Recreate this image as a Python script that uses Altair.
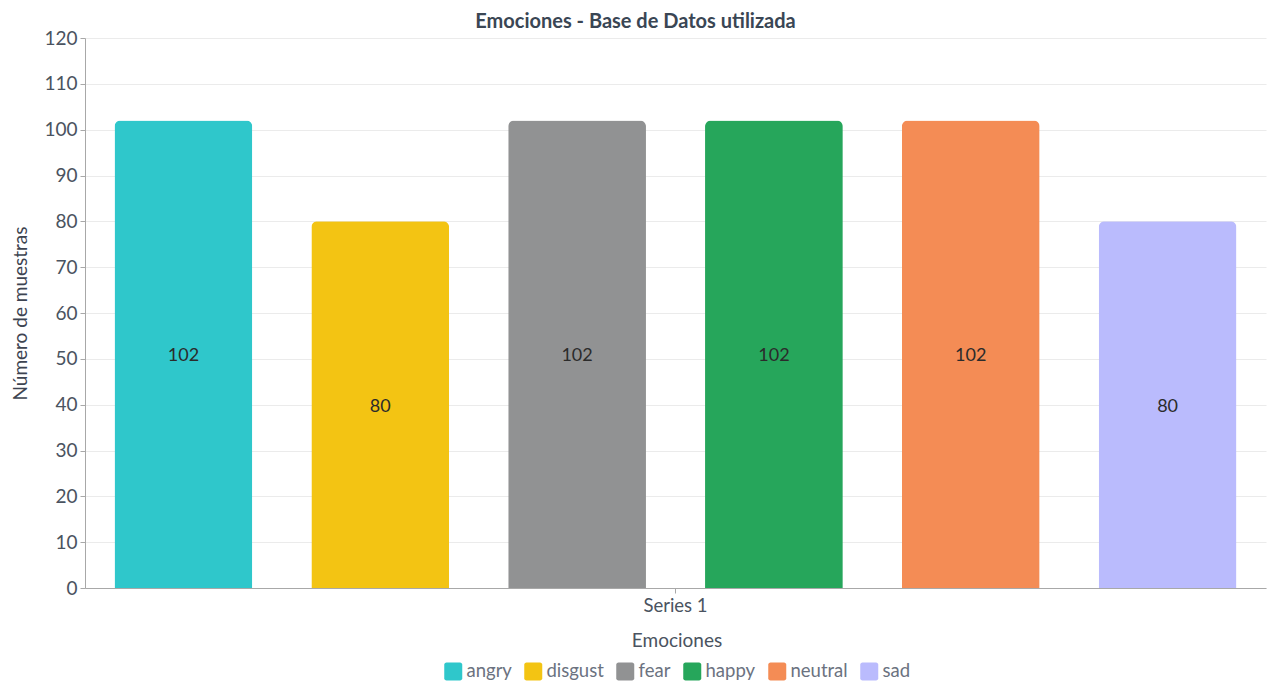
import altair as alt
import pandas as pd

emotions = ["angry", "disgust", "fear", "happy", "neutral", "sad"]
counts = [102, 80, 102, 102, 102, 80]
colors = ["#2FC7CB", "#F3C413", "#919293", "#26A65B", "#F48C55", "#BABBFD"]
series = ["Series 1"] * len(emotions)

df = pd.DataFrame({"Serie": series, "Emociones": emotions, "Valor": counts})

FONT = "Lato"
rounded_square = ("M -0.75 -1 L 0.75 -1 A 0.25 0.25 0 0 1 1 -0.75 L 1 0.75 "
                  "A 0.25 0.25 0 0 1 0.75 1 L -0.75 1 A 0.25 0.25 0 0 1 -1 0.75 "
                  "L -1 -0.75 A 0.25 0.25 0 0 1 -0.75 -1 Z")

x_enc = alt.X("Serie:N", title=None,
              scale=alt.Scale(paddingInner=0, paddingOuter=0),
              axis=alt.Axis(labelAngle=0, labelFontSize=18.5, labelColor="#4a5360",
                            labelFont=FONT, domainColor="#a8a8a8", tickColor="#a8a8a8",
                            tickSize=5, labelPadding=3, grid=False))
xoff = alt.XOffset("Emociones:N", sort=emotions,
                   scale=alt.Scale(paddingInner=0.3, paddingOuter=0.15))
color_enc = alt.Color("Emociones:N", sort=emotions,
                      scale=alt.Scale(domain=emotions, range=colors),
                      legend=alt.Legend(orient="none", legendX=359, legendY=594,
                                        direction="horizontal", title="Emociones",
                                        titleAnchor="middle", titleFontSize=19,
                                        titleFontWeight="normal", titleColor="#4a5360",
                                        titleFont=FONT, titlePadding=11,
                                        labelFontSize=18.5, labelColor="#6b7280",
                                        labelFont=FONT, labelOffset=4,
                                        symbolType=rounded_square, symbolSize=324,
                                        symbolStrokeWidth=0, symbolOpacity=1,
                                        columnPadding=12))

bars = alt.Chart(df).mark_bar(cornerRadiusTopLeft=6, cornerRadiusTopRight=6).encode(
    x=x_enc,
    xOffset=xoff,
    y=alt.Y("Valor:Q", title="Número de muestras",
            scale=alt.Scale(domain=[0, 120], nice=False),
            axis=alt.Axis(values=list(range(0, 121, 10)), labelFontSize=19,
                          labelColor="#4a5360", labelFont=FONT, titleFont=FONT,
                          titleFontSize=19, titleFontWeight="normal",
                          titleColor="#3d4451", titlePadding=13,
                          domainColor="#a8a8a8", tickColor="#a8a8a8", tickSize=5,
                          labelPadding=3, gridColor="#ebebeb")),
    color=color_enc,
)

labels = alt.Chart(df).transform_calculate(mid="datum.Valor / 2").mark_text(
    fontSize=18, font=FONT, color="#2b2b2b", baseline="middle", dy=2
).encode(
    x=alt.X("Serie:N"),
    xOffset=xoff,
    y=alt.Y("mid:Q"),
    text=alt.Text("Valor:Q"),
)

chart = (bars + labels).properties(
    width=1181, height=550,
    autosize=alt.AutoSizeParams(type="none"),
    padding={"left": 85, "top": 38, "right": 4, "bottom": 93},
    title=alt.TitleParams("Emociones - Base de Datos utilizada", fontSize=20,
                          font=FONT, fontWeight="bold", color="#3a4654",
                          anchor="middle", dx=-40, dy=11, offset=8),
).configure_view(stroke=None).configure_axisY(gridColor="#ebebeb")

chart.save("out.html", embed_options={"renderer": "svg", "actions": False})
